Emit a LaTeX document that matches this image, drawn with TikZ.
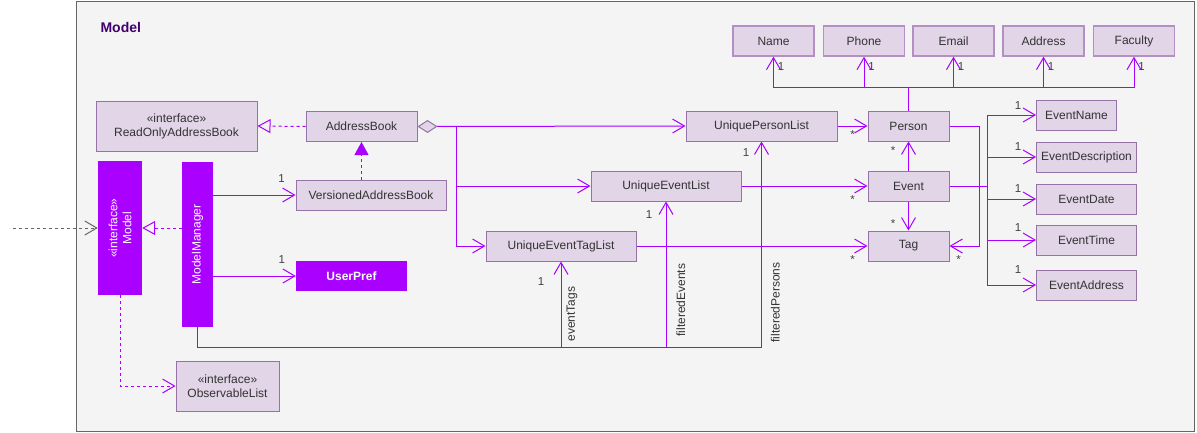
\documentclass[tikz,border=0pt]{standalone}
\usepackage{fontspec}
\setmainfont{Liberation Sans}
\usetikzlibrary{arrows.meta, calc, positioning}
\definecolor{lineviolet}{HTML}{AA00FF}
\definecolor{boxfill}{HTML}{E1D5E7}
\definecolor{boxborder}{HTML}{9673A6}
\definecolor{attrborder}{HTML}{B38FC4}
\definecolor{bgfill}{HTML}{F4F4F4}
\definecolor{framegray}{HTML}{666666}
\definecolor{titlecol}{HTML}{40006E}

\begin{document}
\begin{tikzpicture}
    [
        x=1pt, y=-1pt, font=\fontsize{12}{14}\selectfont,
        box/.style={draw=boxborder, fill=boxfill, line width=1pt, text=black!80, minimum width=#1, minimum height=30pt, inner sep=0pt, align=center},
        box/.default=81,
        attrbox/.style={box, draw=attrborder, line width=1.4pt},
        ibox/.style={box=#1, minimum height=50pt},
        pbox/.style={fill=lineviolet, text=white, inner sep=0pt, align=center},
        mult/.style={font=\fontsize{11.5}{13}\selectfont, text=black!75, inner sep=0pt},
        rolelabel/.style={rotate=90, anchor=north west, inner sep=0pt, text=black!80}
    ]
    \tikzstyle{line} = [draw=lineviolet, line width=1pt]
    \tikzstyle{assoc} = [line, -{Straight Barb[length=12pt,width=14pt]}]
    \tikzstyle{compose} = [line, {Diamond[length=20pt,width=13pt,fill=boxfill,color=boxborder,line width=1pt]}-{Straight Barb[length=12pt,width=14pt]}]
    \tikzstyle{realize} = [line, dash pattern=on 3pt off 3pt, -{Triangle[open,length=13pt,width=14pt]}]
    \tikzstyle{extend} = [line, dash pattern=on 3pt off 3pt, -{Triangle[length=13pt,width=14pt]}]
    \tikzstyle{depend} = [line, dash pattern=on 3pt off 3pt, -{Straight Barb[length=12pt,width=14pt]}]
    \tikzstyle{outside} = [draw=framegray, line width=1pt, dash pattern=on 3pt off 3pt, -{Straight Barb[length=12pt,width=14pt]}]

    \useasboundingbox (0,0) rectangle (1197,432);
    \draw[framegray, fill=bgfill, line width=1pt] (76,1) rectangle (1194,431);
    \node[anchor=west, text=titlecol, font=\bfseries\fontsize{14}{16}\selectfont] (title) at (97,27) {Model};

    % model side
    \node[ibox=161] (ro_ab) at (176.5,126) {«interface»\\ReadOnlyAddressBook};
    \node[pbox, rotate=90, minimum width=134, minimum height=44] (model) at (120,228) {«interface»\\Model};
    \node[pbox, rotate=90, minimum width=165, minimum height=31] (model_mgr) at (197.5,244.5) {ModelManager};
    \node[box=111] (addr_book) at (361.5,126.5) {AddressBook};
    \node[box=150] (versioned_ab) at (371,195) {VersionedAddressBook};
    \node[pbox, minimum width=111, minimum height=30, font=\bfseries\fontsize{12}{14}\selectfont] (user_pref) at (351.5,276) {UserPref};
    \node[ibox=103] (obs_list) at (227.5,386) {«interface»\\ObservableList};

    % lists
    \node[box=151] (uniq_person) at (761.5,126) {UniquePersonList};
    \node[box=150] (uniq_event) at (666,186) {UniqueEventList};
    \node[box=150] (uniq_tag) at (561,246) {UniqueEventTagList};

    % entities
    \node[box] (person) at (908.5,126) {Person};
    \node[box] (event) at (908.5,186) {Event};
    \node[box] (tag) at (908.5,246) {Tag};

    \node[attrbox] (name) at (773.5,41) {Name};
    \node[attrbox] (phone) at (864,41) {Phone};
    \node[attrbox] (email) at (953.5,41) {Email};
    \node[attrbox] (address) at (1043.5,41) {Address};
    \node[attrbox] (faculty) at (1134,41) {Faculty};

    \node[box=80, anchor=west] (event_name) at (1036,115) {EventName};
    \node[box=100, anchor=west] (event_desc) at (1036,157) {EventDescription};
    \node[box=100, anchor=west] (event_date) at (1036,199) {EventDate};
    \node[box=100, anchor=west] (event_time) at (1036,240) {EventTime};
    \node[box=100, anchor=west] (event_addr) at (1036,285) {EventAddress};

    % connectors on the left
    \coordinate (ext_src) at (13,228);
    \draw[outside] (ext_src) -- (model.north);
    \draw[realize] (model_mgr.north |- model.south) -- (model.south);
    \draw[assoc] (model_mgr.south |- versioned_ab.west) -- (versioned_ab.west)
        node[mult, pos=1, xshift=-14pt, yshift=16pt] {1};
    \draw[assoc] (model_mgr.south |- user_pref.west) -- (user_pref.west)
        node[mult, pos=1, xshift=-14pt, yshift=16pt] {1};
    \draw[realize] (addr_book.west) -- (ro_ab.east);
    \draw[extend] (addr_book.south |- versioned_ab.north) -- (addr_book.south);
    \draw[depend] (model.west) |- (obs_list.west);

    % address book to the lists
    \coordinate (ab_branch) at ($(addr_book.east)+(39,0)$);
    \draw[compose] (addr_book.east) -- (uniq_person.west);
    \draw[assoc] (ab_branch) |- (uniq_event.west);
    \draw[assoc] (ab_branch) |- (uniq_tag.west);

    % lists to entities
    \draw[assoc] (uniq_person.east) -- (person.west)
        node[mult, pos=1, xshift=-15pt, yshift=-9pt] {*};
    \draw[assoc] (uniq_event.east) -- (event.west)
        node[mult, pos=1, xshift=-15pt, yshift=-13.5pt] {*};
    \draw[assoc] (uniq_tag.east) -- (tag.west)
        node[mult, pos=1, xshift=-15pt, yshift=-13.5pt] {*};
    \draw[assoc] (event.north) -- (person.south)
        node[mult, pos=1, xshift=-15.5pt, yshift=-9pt] {*};
    \draw[assoc] (event.south) -- (tag.north)
        node[mult, pos=1, xshift=-15.5pt, yshift=7pt] {*};
    \draw[assoc] (person.east) -- ++(30,0) |- (tag.east)
        node[mult, pos=1, xshift=9pt, yshift=-13.5pt] {*};

    % person attributes
    \coordinate (attr_bus) at ($(person.north)+(0,-23)$);
    \draw[line] (person.north) -- (attr_bus);
    \foreach \attr in {name, phone, email, address, faculty}
        \draw[assoc] (attr_bus) -| (\attr.south)
            node[mult, pos=1, xshift=7.5pt, yshift=-10pt] {1};

    % event attributes
    \coordinate (evt_bus) at ($(event.east)+(38,0)$);
    \draw[line] (event.east) -- (evt_bus);
    \draw[assoc] (evt_bus) |- (event_name.west) node[mult, pos=1, xshift=-18pt, yshift=9pt] {1};
    \draw[assoc] (evt_bus) |- (event_desc.west) node[mult, pos=1, xshift=-18pt, yshift=10.5pt] {1};
    \draw[assoc] (evt_bus) |- (event_date.west) node[mult, pos=1, xshift=-18pt, yshift=10.5pt] {1};
    \draw[assoc] (evt_bus) |- (event_time.west) node[mult, pos=1, xshift=-18pt, yshift=12pt] {1};
    \draw[assoc] (evt_bus) |- (event_addr.west) node[mult, pos=1, xshift=-18pt, yshift=15pt] {1};

    % model manager to the filtered lists
    \coordinate (list_bus) at (0,347);
    \draw[line] (model_mgr.west) |- (uniq_person.south |- list_bus);
    \draw[assoc] (uniq_tag.south |- list_bus) -- (uniq_tag.south)
        node[mult, pos=1, xshift=-20pt, yshift=-20pt] {1}
        node[xshift=5pt, yshift=5pt, pos=0, rolelabel] {eventTags};
    \draw[assoc] (uniq_event.south |- list_bus) -- (uniq_event.south)
        node[mult, pos=1, xshift=-17pt, yshift=-13pt] {1}
        node[xshift=10pt, yshift=10pt, pos=0, rolelabel] {filteredEvents};
    \draw[assoc] (uniq_person.south |- list_bus) -- (uniq_person.south)
        node[mult, pos=1, xshift=-15.5pt, yshift=-11pt] {1}
        node[xshift=9pt, yshift=4pt, pos=0, rolelabel] {filteredPersons};
\end{tikzpicture}
\end{document}
